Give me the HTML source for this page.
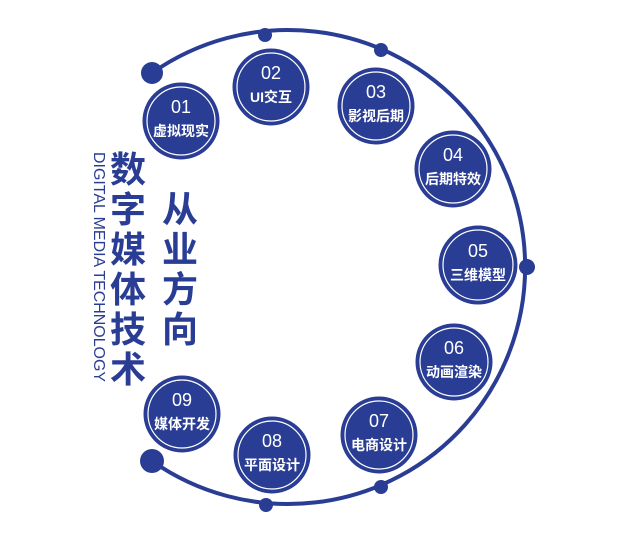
<!DOCTYPE html>
<html><head><meta charset="utf-8"><style>
body{margin:0;background:#fff;width:640px;height:547px;overflow:hidden}
svg{display:block}
.n{font-family:"Liberation Sans","Noto Sans CJK SC",sans-serif;fill:#fff;font-size:18px;text-anchor:middle}
.l{font-family:"Liberation Sans","Noto Sans CJK SC",sans-serif;fill:#fff;font-size:14px;font-weight:bold;text-anchor:middle}
.b{font-family:"Noto Sans CJK SC",sans-serif;fill:#2a3d94;font-size:36px;font-weight:bold;text-anchor:middle}
</style></head><body>
<svg width="640" height="547" viewBox="0 0 640 547">
<path d="M152 73 A237 237 0 1 1 152 461" fill="none" stroke="#2a3d94" stroke-width="4"/>
<g fill="#2a3d94">
<circle cx="152" cy="73" r="11"/><circle cx="152" cy="461" r="12"/>
<circle cx="265" cy="35" r="7"/><circle cx="381" cy="50" r="7"/>
<circle cx="527" cy="267" r="8"/><circle cx="266" cy="505" r="7"/><circle cx="381" cy="487" r="7"/>
</g>
<g id="c">
</g>
<g>
<!-- circles -->
<g fill="#2a3d94" stroke="#2a3d94" stroke-width="1">
<circle cx="181" cy="121" r="38"/><circle cx="271" cy="87" r="38"/><circle cx="376" cy="106" r="38"/>
<circle cx="453" cy="169" r="38"/><circle cx="478" cy="265" r="39"/><circle cx="454" cy="362" r="38"/>
<circle cx="379" cy="435" r="38"/><circle cx="272" cy="455" r="38"/><circle cx="182" cy="414" r="38"/>
</g>
<g fill="none" stroke="#fff" stroke-width="1.2">
<circle cx="181" cy="121" r="34"/><circle cx="271" cy="87" r="34"/><circle cx="376" cy="106" r="34"/>
<circle cx="453" cy="169" r="34"/><circle cx="478" cy="265" r="35"/><circle cx="454" cy="362" r="34"/>
<circle cx="379" cy="435" r="34"/><circle cx="272" cy="455" r="34"/><circle cx="182" cy="414" r="34"/>
</g>
<text class="n" x="181" y="113">01</text><text class="l" x="181" y="136">虚拟现实</text>
<text class="n" x="271" y="79">02</text><text class="l" x="271" y="102">UI交互</text>
<text class="n" x="376" y="98">03</text><text class="l" x="376" y="121">影视后期</text>
<text class="n" x="453" y="161">04</text><text class="l" x="453" y="184">后期特效</text>
<text class="n" x="478" y="257">05</text><text class="l" x="478" y="280">三维模型</text>
<text class="n" x="454" y="354">06</text><text class="l" x="454" y="377">动画渲染</text>
<text class="n" x="379" y="427">07</text><text class="l" x="379" y="450">电商设计</text>
<text class="n" x="272" y="447">08</text><text class="l" x="272" y="470">平面设计</text>
<text class="n" x="182" y="406">09</text><text class="l" x="182" y="429">媒体开发</text>
</g>
<g class="b">
<text class="b" x="128" y="182">数</text><text class="b" x="128" y="222">字</text><text class="b" x="128" y="262">媒</text>
<text class="b" x="128" y="302">体</text><text class="b" x="128" y="342">技</text><text class="b" x="128" y="382">术</text>
<text class="b" x="180" y="222">从</text><text class="b" x="180" y="262">业</text><text class="b" x="180" y="302">方</text><text class="b" x="180" y="342">向</text>
</g>
<text transform="translate(94,152) rotate(90)" font-family="Liberation Sans,sans-serif" font-size="15.5" fill="#2a3d94" textLength="230" lengthAdjust="spacingAndGlyphs">DIGITAL MEDIA TECHNOLOGY</text>
</svg>
</body></html>
